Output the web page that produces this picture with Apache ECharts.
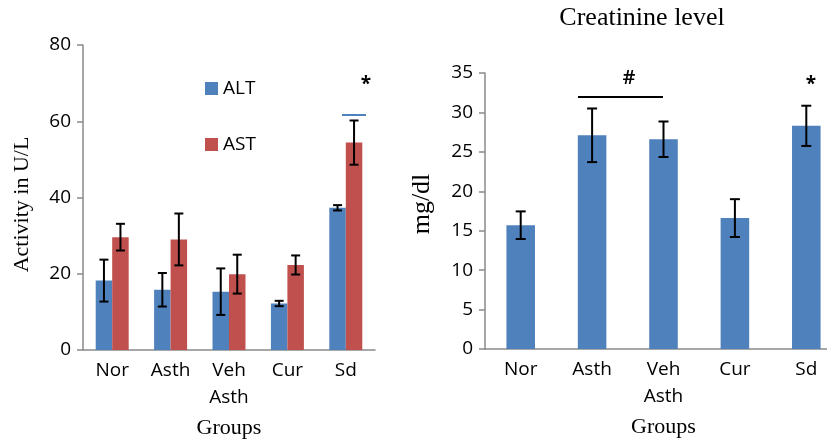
<!DOCTYPE html>
<html>
<head>
<meta charset="utf-8">
<script src="https://cdn.jsdelivr.net/npm/echarts@6/dist/echarts.min.js"></script>
<style>html,body{margin:0;padding:0;background:#fff}#c{width:827px;height:440px}</style>
</head>
<body>
<div id="c"></div>
<script>
// ---- data ----
var categories = ['Nor', 'Asth', 'Veh\nAsth', 'Cur', 'Sd'];
var leftTicks = [0, 20, 40, 60, 80];
var altMean = [18.2, 15.8, 15.3, 12.2, 37.3];
var altErr  = [5.5, 4.4, 6.1, 0.7, 0.7];
var astMean = [29.6, 29.0, 19.9, 22.3, 54.4];
var astErr  = [3.5, 6.8, 5.1, 2.5, 5.8];
var rightTicks = [0, 5, 10, 15, 20, 25, 30, 35];
var creatMean = [15.7, 27.1, 26.6, 16.6, 28.3];
var creatErr  = [1.75, 3.4, 2.25, 2.4, 2.55];

var BLUE = '#4F81BD', RED = '#C0504D', AXIS = '#8a8a8a';
var SANS = '"Open Sans", "Noto Sans", sans-serif';
var SERIF = '"Liberation Serif", "Times New Roman", serif';

function errData(mean, err) {
  return mean.map(function (m, i) { return [i, m - err[i], m + err[i]]; });
}
function errRender(shiftBars, barFrac, cap) {
  return function (params, api) {
    var i = api.value(0);
    var lo = api.coord([i, api.value(1)]);
    var hi = api.coord([i, api.value(2)]);
    var band = api.size([1, 0])[0];
    var x = lo[0] + shiftBars * band * barFrac;
    var st = { stroke: '#000', lineWidth: 2 };
    return { type: 'group', children: [
      { type: 'line', shape: { x1: x, y1: lo[1], x2: x, y2: hi[1] }, style: st },
      { type: 'line', shape: { x1: x - cap, y1: lo[1], x2: x + cap, y2: lo[1] }, style: st },
      { type: 'line', shape: { x1: x - cap, y1: hi[1], x2: x + cap, y2: hi[1] }, style: st }
    ]};
  };
}

var leftBarFrac = 0.565 / 2; // each bar's share of the band
var rightBarFrac = 0.4;

var chart = echarts.init(document.getElementById('c'), null, { renderer: 'canvas' });
var axisLineStyle = { lineStyle: { color: AXIS, width: 1.5 } };
var tickFont = { fontFamily: SANS, fontSize: 19, color: '#000' };

chart.setOption({
  animation: false,
  backgroundColor: '#fff',
  grid: [
    { left: 83, right: 452, top: 45, bottom: 90, outerBoundsMode: 'none', containLabel: false },
    { left: 485, right: -15, top: 73, bottom: 91, outerBoundsMode: 'none', containLabel: false }
  ],
  legend: {
    data: ['ALT', 'AST'],
    orient: 'vertical',
    left: 205, top: 79, padding: 0,
    itemWidth: 13, itemHeight: 13, itemGap: 37,
    icon: 'rect',
    textStyle: { fontFamily: SANS, fontSize: 19, color: '#000', lineHeight: 18 }
  },
  xAxis: [
    { type: 'category', gridIndex: 0, data: categories,
      axisLine: axisLineStyle, axisTick: { show: false },
      axisLabel: Object.assign({ lineHeight: 27, margin: 7, interval: 0 }, tickFont),
      name: 'Groups', nameLocation: 'middle', nameGap: 67,
      nameTextStyle: { fontFamily: SERIF, fontSize: 22, color: '#000' } },
    { type: 'category', gridIndex: 1, data: categories,
      axisLine: axisLineStyle, axisTick: { show: false },
      axisLabel: Object.assign({ lineHeight: 27, margin: 7, interval: 0 }, tickFont),
      name: 'Groups', nameLocation: 'middle', nameGap: 67,
      nameTextStyle: { fontFamily: SERIF, fontSize: 22, color: '#000' } }
  ],
  yAxis: [
    { type: 'value', gridIndex: 0, min: leftTicks[0], max: leftTicks[leftTicks.length - 1], interval: leftTicks[1] - leftTicks[0],
      axisLine: { show: true, lineStyle: { color: AXIS, width: 1.5 } },
      axisTick: { show: true, inside: false, length: 6, lineStyle: { color: AXIS, width: 1.5 } },
      splitLine: { show: false },
      axisLabel: Object.assign({ margin: 12 }, tickFont),
      name: 'Activity in U/L', nameLocation: 'middle', nameGap: 50, nameRotate: 90,
      nameTextStyle: { fontFamily: SERIF, fontSize: 22, color: '#000', padding: [0, 14, 0, 0] } },
    { type: 'value', gridIndex: 1, min: rightTicks[0], max: rightTicks[rightTicks.length - 1], interval: rightTicks[1] - rightTicks[0],
      axisLine: { show: true, lineStyle: { color: AXIS, width: 1.5 } },
      axisTick: { show: true, inside: false, length: 6, lineStyle: { color: AXIS, width: 1.5 } },
      splitLine: { show: false },
      axisLabel: Object.assign({ margin: 12 }, tickFont),
      name: 'mg/dl', nameLocation: 'middle', nameGap: 50, nameRotate: 90,
      nameTextStyle: { fontFamily: SERIF, fontSize: 26, color: '#000', padding: [0, 0, 0, 14] } }
  ],
  series: [
    { name: 'ALT', type: 'bar', xAxisIndex: 0, yAxisIndex: 0, data: altMean,
      itemStyle: { color: BLUE }, barGap: '0%', barCategoryGap: '43.5%' },
    { name: 'AST', type: 'bar', xAxisIndex: 0, yAxisIndex: 0, data: astMean,
      itemStyle: { color: RED }, barGap: '0%', barCategoryGap: '43.5%' },
    { name: 'ALT err', type: 'custom', xAxisIndex: 0, yAxisIndex: 0, data: errData(altMean, altErr),
      renderItem: errRender(-0.5, leftBarFrac, 4.5), encode: { x: 0, y: [1, 2] }, z: 5 },
    { name: 'AST err', type: 'custom', xAxisIndex: 0, yAxisIndex: 0, data: errData(astMean, astErr),
      renderItem: errRender(0.5, leftBarFrac, 4.5), encode: { x: 0, y: [1, 2] }, z: 5 },
    { name: 'Creatinine', type: 'bar', xAxisIndex: 1, yAxisIndex: 1, data: creatMean,
      itemStyle: { color: BLUE }, barCategoryGap: '60%' },
    { name: 'Creatinine err', type: 'custom', xAxisIndex: 1, yAxisIndex: 1, data: errData(creatMean, creatErr),
      renderItem: errRender(0, rightBarFrac, 5), encode: { x: 0, y: [1, 2] }, z: 5 }
  ],
  graphic: [
    { type: 'text', x: 642, y: 18,
      style: { text: 'Creatinine level', font: '26px ' + SERIF, fill: '#000', align: 'center', verticalAlign: 'middle' } },
    { type: 'line', shape: { x1: 342, y1: 115, x2: 366, y2: 115 }, style: { stroke: BLUE, lineWidth: 2 } },
    { type: 'text', x: 366, y: 85, style: { text: '*', font: 'bold 19px ' + SANS, fill: '#000', align: 'center', verticalAlign: 'middle' } },
    { type: 'line', shape: { x1: 578, y1: 97, x2: 663, y2: 97 }, style: { stroke: '#000', lineWidth: 2 } },
    { type: 'text', x: 629, y: 78, style: { text: '#', font: '600 20px ' + SANS, fill: '#000', align: 'center', verticalAlign: 'middle' } },
    { type: 'text', x: 811, y: 85, style: { text: '*', font: 'bold 19px ' + SANS, fill: '#000', align: 'center', verticalAlign: 'middle' } }
  ]
});
</script>
</body>
</html>
